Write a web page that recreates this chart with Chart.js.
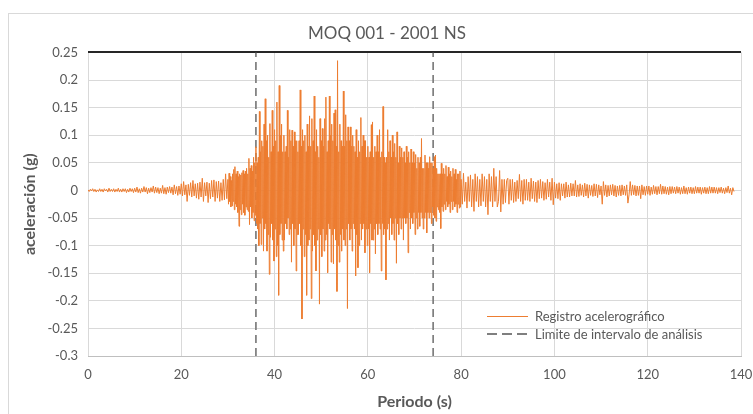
<!DOCTYPE html>
<html>
<head>
<meta charset="utf-8">
<script src="https://cdn.jsdelivr.net/npm/chart.js@4/dist/chart.umd.min.js"></script>
<style>
  html, body { margin: 0; padding: 0; background: #fff; overflow: hidden; }
  #frame { position: absolute; left: 8px; top: 13px; width: 800px; height: 500px; border: 1px solid #d9d9d9; }
  #wrap { position: absolute; left: 0; top: 0; width: 774px; height: 414px; }
  #legend { position: absolute; left: 487px; top: 307px; font-family: Lato, "Open Sans", sans-serif; font-size: 13px; color: #595959; line-height: 18px; }
  #legend .row { display: flex; align-items: center; white-space: nowrap; }
  #legend .swatch { width: 41px; margin-right: 7px; }
</style>
</head>
<body>
<div id="frame"></div>
<div id="wrap"><canvas id="sismoChart"></canvas></div>
<div id="legend">
  <div class="row"><span class="swatch" style="height: 1px; background: #ed7d31;"></span>Registro acelerográfico</div>
  <div class="row"><span class="swatch" style="height: 2px; background: repeating-linear-gradient(to right, #7f7f7f 0 10px, transparent 10px 15px);"></span>Limite de intervalo de análisis</div>
</div>
<script>
// Registro acelerografico MOQ 001 - 2001 NS
// tramo inicial: 0 a 29.75 s cada 0.25 s (una fila = 2 s)
const tPre0 = 0, dtPre = 0.25;
const accPre = [
  0.001, -0.002, 0.002, -0.001, 0.003, -0.002, 0.002, -0.003,
  0.001, -0.002, 0.003, -0.002, 0.002, -0.003, 0.003, -0.001,
  0.002, -0.003, 0.004, -0.002, 0.002, -0.002, 0.003, -0.003,
  0.002, -0.002, 0.004, -0.003, 0.002, -0.003, 0.003, -0.002,
  0.003, -0.004, 0.002, -0.003, 0.004, -0.002, 0.003, -0.004,
  0.004, -0.003, 0.006, -0.004, 0.003, -0.005, 0.004, -0.003,
  0.007, -0.003, 0.005, -0.006, 0.004, -0.004, 0.005, -0.003,
  0.008, -0.005, 0.006, -0.004, 0.005, -0.006, 0.004, -0.005,
  0.009, -0.006, 0.005, -0.007, 0.006, -0.004, 0.007, -0.005,
  0.006, -0.008, 0.010, -0.006, 0.007, -0.009, 0.008, -0.007,
  0.012, -0.010, 0.016, -0.008, 0.010, -0.020, 0.011, -0.009,
  0.014, -0.012, 0.018, -0.010, 0.012, -0.014, 0.013, -0.016,
  0.015, -0.012, 0.022, -0.020, 0.014, -0.010, 0.015, -0.022,
  0.013, -0.015, 0.018, -0.012, 0.019, -0.020, 0.016, -0.014,
  0.017, -0.020, 0.014, -0.018, 0.020, -0.017, 0.030, -0.015
];
// fase intensa: 30 a 79.875 s cada 0.125 s (una fila = 1 s)
const tStrong0 = 30, dtStrong = 0.125;
const accStrong = [
  0.020, -0.025, 0.031, -0.020, 0.025, -0.030, 0.018, -0.028,
  0.030, -0.020, 0.038, -0.035, 0.043, -0.025, 0.030, -0.030,
  0.035, -0.040, 0.025, -0.065, 0.030, -0.035, 0.028, -0.044,
  0.032, -0.025, 0.036, -0.040, 0.030, -0.045, 0.035, -0.030,
  0.040, -0.035, 0.030, -0.038, 0.058, -0.062, 0.040, -0.030,
  0.045, -0.050, 0.035, -0.040, 0.060, -0.055, 0.050, -0.045,
  0.079, -0.060, 0.050, -0.070, 0.060, -0.100, 0.143, -0.060,
  0.070, -0.098, 0.090, -0.050, 0.080, -0.110, 0.120, -0.070,
  0.166, -0.060, 0.090, -0.110, 0.100, -0.080, 0.060, -0.152,
  0.121, -0.085, 0.070, -0.060, 0.145, -0.090, 0.080, -0.128,
  0.110, -0.070, 0.090, -0.120, 0.160, -0.100, 0.070, -0.190,
  0.190, -0.080, 0.100, -0.060, 0.120, -0.090, 0.070, -0.110,
  0.100, -0.090, 0.070, -0.060, 0.080, -0.070, 0.145, -0.050,
  0.060, -0.080, 0.110, -0.070, 0.090, -0.130, 0.109, -0.060,
  0.080, -0.100, 0.106, -0.070, 0.090, -0.146, 0.090, -0.080,
  0.070, -0.080, 0.090, -0.060, 0.182, -0.100, 0.080, -0.233,
  0.110, -0.070, 0.090, -0.120, 0.100, -0.080, 0.070, -0.190,
  0.120, -0.100, 0.080, -0.090, 0.135, -0.070, 0.080, -0.196,
  0.130, -0.110, 0.090, -0.080, 0.171, -0.100, 0.070, -0.146,
  0.110, -0.090, 0.080, -0.070, 0.060, -0.206, 0.130, -0.080,
  0.090, -0.120, 0.112, -0.070, 0.080, -0.110, 0.130, -0.090,
  0.169, -0.080, 0.070, -0.149, 0.090, -0.060, 0.171, -0.070,
  0.100, -0.130, 0.120, -0.080, 0.090, -0.133, 0.140, -0.070,
  0.146, -0.090, 0.080, -0.183, 0.235, -0.100, 0.070, -0.130,
  0.120, -0.080, 0.090, -0.110, 0.080, -0.070, 0.180, -0.090,
  0.080, -0.100, 0.137, -0.070, 0.090, -0.214, 0.115, -0.060,
  0.090, -0.090, 0.115, -0.070, 0.080, -0.110, 0.100, -0.060,
  0.080, -0.070, 0.070, -0.155, 0.110, -0.080, 0.060, -0.140,
  0.090, -0.100, 0.070, -0.060, 0.132, -0.090, 0.080, -0.070,
  0.100, -0.060, 0.090, -0.113, 0.090, -0.070, 0.060, -0.100,
  0.080, -0.070, 0.060, -0.149, 0.070, -0.060, 0.119, -0.090,
  0.124, -0.090, 0.060, -0.070, 0.080, -0.115, 0.070, -0.060,
  0.100, -0.080, 0.070, -0.060, 0.110, -0.070, 0.060, -0.146,
  0.070, -0.060, 0.152, -0.080, 0.060, -0.070, 0.050, -0.162,
  0.060, -0.070, 0.110, -0.060, 0.070, -0.090, 0.090, -0.050,
  0.060, -0.080, 0.100, -0.060, 0.070, -0.090, 0.085, -0.050,
  0.060, -0.132, 0.106, -0.060, 0.050, -0.080, 0.080, -0.050,
  0.060, -0.070, 0.077, -0.050, 0.060, -0.090, 0.070, -0.050,
  0.050, -0.060, 0.080, -0.050, 0.060, -0.113, 0.070, -0.040,
  0.050, -0.070, 0.075, -0.050, 0.050, -0.060, 0.070, -0.040,
  0.050, -0.080, 0.065, -0.050, 0.040, -0.070, 0.060, -0.040,
  0.050, -0.065, 0.060, -0.040, 0.094, -0.050, 0.040, -0.070,
  0.040, -0.050, 0.064, -0.040, 0.050, -0.077, 0.050, -0.040,
  0.040, -0.050, 0.061, -0.040, 0.050, -0.060, 0.050, -0.030,
  0.040, -0.045, 0.061, -0.050, 0.064, -0.056, 0.040, -0.030,
  0.030, -0.035, 0.030, -0.040, 0.030, -0.069, 0.049, -0.030,
  0.030, -0.038, 0.040, -0.025, 0.030, -0.035, 0.045, -0.020,
  0.025, -0.030, 0.042, -0.025, 0.030, -0.040, 0.035, -0.020,
  0.025, -0.035, 0.040, -0.020, 0.030, -0.030, 0.038, -0.025,
  0.020, -0.040, 0.030, -0.025, 0.030, -0.032, 0.035, -0.030
];
// coda: 80 a 138.5 s cada 0.25 s (una fila = 2 s)
const tCoda0 = 80, dtCoda = 0.25;
const accCoda = [
  0.020, -0.025, 0.031, -0.020, 0.015, -0.032, 0.025, -0.020,
  0.028, -0.030, 0.020, -0.038, 0.030, -0.020, 0.025, -0.030,
  0.020, -0.028, 0.030, -0.020, 0.025, -0.030, 0.020, -0.044,
  0.030, -0.020, 0.025, -0.030, 0.040, -0.020, 0.025, -0.030,
  -0.020, 0.036, -0.039, 0.020, -0.025, 0.020, -0.022, 0.018,
  0.022, -0.025, 0.020, -0.018, 0.020, -0.022, 0.015, -0.020,
  0.018, -0.015, 0.029, -0.020, 0.018, -0.025, 0.020, -0.018,
  0.020, -0.018, 0.015, -0.020, 0.022, -0.015, 0.017, -0.020,
  0.015, -0.022, 0.018, -0.015, 0.020, -0.014, 0.016, -0.018,
  0.014, -0.016, 0.020, -0.012, 0.015, -0.018, 0.022, -0.026,
  0.015, -0.014, 0.012, -0.015, 0.014, -0.018, 0.012, -0.010,
  0.012, -0.014, 0.015, -0.012, 0.010, -0.012, 0.013, -0.010,
  0.012, -0.010, 0.018, -0.012, 0.010, -0.011, 0.012, -0.009,
  0.010, -0.012, 0.013, -0.010, 0.011, -0.014, 0.010, -0.009,
  0.009, -0.011, 0.012, -0.010, 0.011, -0.013, 0.010, -0.008,
  0.008, -0.025, 0.016, -0.009, 0.010, -0.012, 0.009, -0.010,
  0.010, -0.008, 0.011, -0.010, 0.009, -0.012, 0.008, -0.009,
  0.009, -0.010, 0.010, -0.008, 0.008, -0.009, 0.010, -0.023,
  -0.008, 0.016, -0.009, 0.010, -0.008, 0.009, -0.010, 0.008,
  -0.009, 0.008, -0.015, 0.010, -0.008, 0.007, -0.009, 0.008,
  -0.007, 0.008, -0.009, 0.006, -0.007, 0.009, -0.006, 0.007,
  -0.008, 0.007, -0.006, 0.011, -0.007, 0.008, -0.006, 0.007,
  -0.007, 0.006, -0.008, 0.007, -0.006, 0.007, -0.005, 0.006,
  -0.006, 0.007, -0.005, 0.006, -0.007, 0.005, -0.006, 0.008,
  -0.006, 0.005, -0.007, 0.006, -0.005, 0.006, -0.006, 0.005,
  -0.006, 0.007, -0.005, 0.006, -0.005, 0.006, -0.007, 0.005,
  -0.005, 0.006, -0.006, 0.005, -0.006, 0.007, -0.005, 0.006,
  -0.005, 0.006, -0.005, 0.005, -0.006, 0.005, -0.004, 0.006,
  -0.005, 0.004, -0.006, 0.005, -0.004, 0.008, -0.005, 0.004,
  -0.008, 0.005, -0.002
];
// limites del intervalo de analisis (s)
const limites = [36, 74];
const xTicks = [0, 20, 40, 60, 80, 100, 120, 140];
const yTicks = [0.25, 0.2, 0.15, 0.1, 0.05, 0, -0.05, -0.1, -0.15, -0.2, -0.25, -0.3];

const yMin = yTicks[yTicks.length - 1], yMax = yTicks[0];

const registro = []
  .concat(accPre.map((a, i) => ({ x: tPre0 + i * dtPre, y: a })))
  .concat(accStrong.map((a, i) => ({ x: tStrong0 + i * dtStrong, y: a })))
  .concat(accCoda.map((a, i) => ({ x: tCoda0 + i * dtCoda, y: a })));

const limitePts = [];
limites.forEach((t, i) => {
  if (i > 0) limitePts.push({ x: t, y: null });
  limitePts.push({ x: t, y: yMin }, { x: t, y: yMax });
});

const fontFam = 'Lato, "Open Sans", sans-serif';
const gris = '#595959';

new Chart(document.getElementById('sismoChart'), {
  type: 'line',
  data: {
    datasets: [{
      label: 'Registro acelerográfico',
      data: registro,
      borderColor: '#ed7d31',
      borderWidth: 1,
      pointRadius: 0,
      tension: 0
    }, {
      label: 'Limite de intervalo de análisis',
      data: limitePts,
      borderColor: '#7f7f7f',
      borderWidth: 1.75,
      borderDash: [8, 5],
      pointRadius: 0,
      spanGaps: false
    }]
  },
  options: {
    responsive: true,
    maintainAspectRatio: false,
    animation: false,
    layout: { padding: { left: 0, right: 0, top: 0, bottom: 0 } },
    plugins: {
      legend: { display: false },
      tooltip: { enabled: false },
      title: {
        display: true,
        text: 'MOQ 001 - 2001 NS',
        color: gris,
        font: { family: fontFam, size: 17, weight: 'normal' },
        padding: { top: 23, bottom: 9 }
      }
    },
    scales: {
      x: {
        type: 'linear',
        min: xTicks[0], max: xTicks[xTicks.length - 1],
        afterBuildTicks: s => { s.ticks = xTicks.map(v => ({ value: v })); },
        afterFit: s => { s.height = 58; s.paddingRight = 33; s.paddingLeft = 0; },
        grid: { color: '#d9d9d9', drawTicks: false },
        border: { color: '#bfbfbf' },
        ticks: { color: gris, font: { family: fontFam, size: 13 }, padding: 11, maxRotation: 0 },
        title: { display: true, text: 'Periodo (s)', color: gris, font: { family: fontFam, size: 16, weight: 'bold' }, padding: { top: 0, bottom: 3 } }
      },
      y: {
        min: yMin, max: yMax,
        afterBuildTicks: s => { s.ticks = yTicks.slice().reverse().map(v => ({ value: v })); },
        afterFit: s => { s.width = 88; },
        grid: {
          color: c => (c.tick && c.tick.value === yMax) ? '#262626' : '#d9d9d9',
          lineWidth: c => (c.tick && c.tick.value === yMax) ? 2 : 1,
          drawTicks: false
        },
        border: { display: false },
        ticks: { color: gris, font: { family: fontFam, size: 13 }, padding: 10, callback: v => String(Math.round(v * 100) / 100) },
        title: { display: true, text: 'aceleración (g)', color: gris, font: { family: fontFam, size: 16, weight: 'bold' }, padding: { top: 20, bottom: 0 } }
      }
    }
  }
});
</script>
</body>
</html>
